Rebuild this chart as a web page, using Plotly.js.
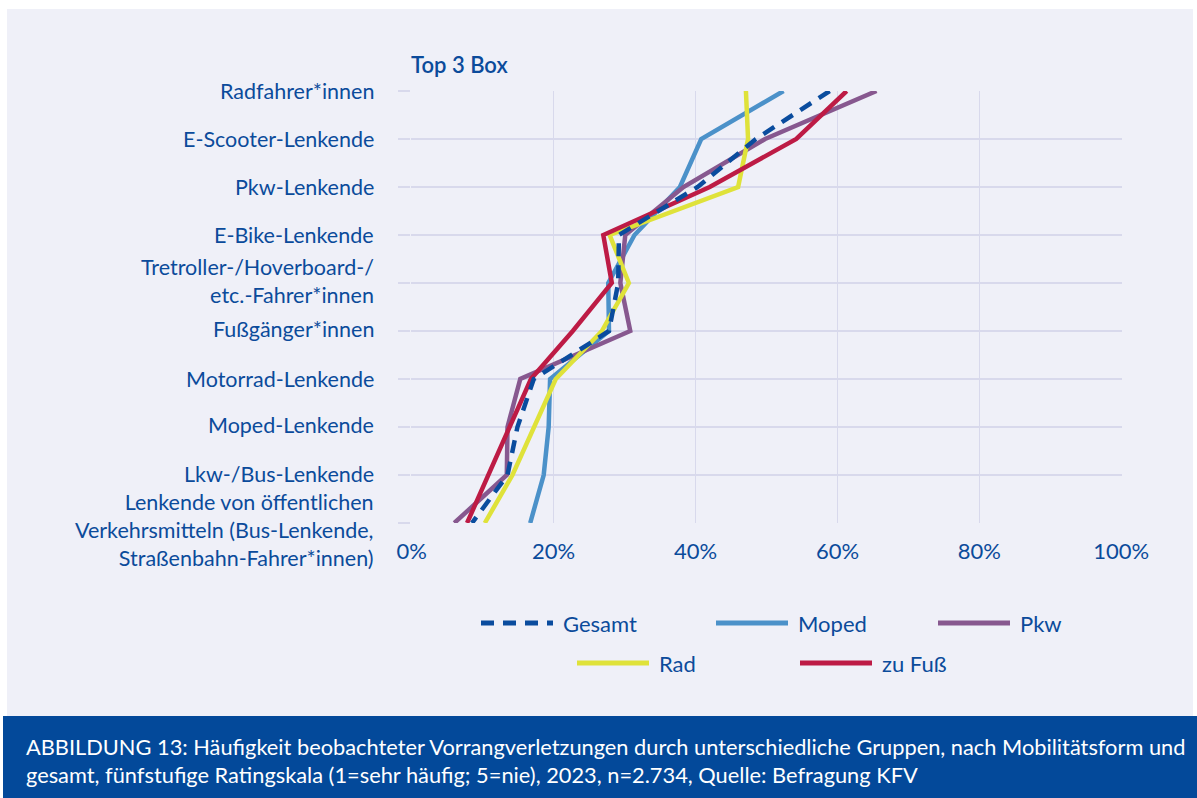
<!DOCTYPE html>
<html>
<head>
<meta charset="utf-8">
<script src="https://cdn.plot.ly/plotly-3.0.1.min.js"></script>
<style>
  html, body { margin: 0; padding: 0; background: #ffffff; }
  #chart { width: 1197px; height: 798px; }
</style>
</head>
<body>
<div id="chart"></div>
<script>
const categories = [
  "Radfahrer*innen",
  "E-Scooter-Lenkende",
  "Pkw-Lenkende",
  "E-Bike-Lenkende",
  "Tretroller-/Hoverboard-/<br>etc.-Fahrer*innen",
  "Fußgänger*innen",
  "Motorrad-Lenkende",
  "Moped-Lenkende",
  "Lkw-/Bus-Lenkende",
  "Lenkende von öffentlichen<br>Verkehrsmitteln (Bus-Lenkende,<br>Straßenbahn-Fahrer*innen)"
];
const gesamt = [58.9, 48.5, 40.3, 29.2, 29.1, 27.8, 17.2, 14.9, 13.5, 8.5];
const moped  = [52.4, 40.8, 37.8, 31.4, 27.7, 27.8, 19.5, 19.3, 18.6, 16.7];
const pkw    = [65.5, 49.8, 38.3, 30.1, 29.4, 30.8, 15.3, 13.5, 13.4, 6.0];
const rad    = [47.1, 47.4, 46.0, 27.9, 30.6, 26.8, 20.3, 17.2, 14.2, 10.3];
const zuFuss = [61.3, 54.2, 42.0, 27.0, 28.2, 22.7, 16.8, 13.8, 10.8, 7.8];
const xTicks = [0, 20, 40, 60, 80, 100];

const NAVY = "#0B4B9B";
const FONT = "Lato, 'Open Sans', sans-serif";
const FS = 22;

// plot area in pixels
const L = 411, R = 1122, T = 91, B = 523;
const W = R - L, H = B - T;
const px = v => (v - L) / W;
const py = v => (B - v) / H;

const series = [
  { name: "Gesamt", vals: gesamt, color: "#0A4C9E", dash: "13px,9px", lx: 481, ly: 623 },
  { name: "Moped",  vals: moped,  color: "#4B91C9", dash: "solid",    lx: 716, ly: 623 },
  { name: "Pkw",    vals: pkw,    color: "#87588F", dash: "solid",    lx: 938, ly: 623 },
  { name: "Rad",    vals: rad,    color: "#DFE23A", dash: "solid",    lx: 577, ly: 663 },
  { name: "zu Fuß", vals: zuFuss, color: "#BD1B45", dash: "solid",    lx: 800, ly: 663 }
];

// draw Gesamt last so it lies on top
const drawOrder = [1, 2, 3, 4, 0];
const traces = drawOrder.map(i => ({
  type: "scatter", mode: "lines", name: series[i].name,
  x: series[i].vals, y: categories,
  line: { color: series[i].color, width: 4.5, dash: series[i].dash },
  hoverinfo: "skip", showlegend: false
}));

const shapes = [
  { type: "rect", xref: "paper", yref: "paper", layer: "below",
    x0: px(7), x1: px(1193), y0: py(716), y1: py(9),
    fillcolor: "#EFF0F8", line: { width: 0 } },
  { type: "rect", xref: "paper", yref: "paper", layer: "below",
    x0: px(3), x1: px(1197), y0: py(798), y1: py(716),
    fillcolor: "#03499A", line: { width: 0 } }
];
const annotations = [
  { text: "Top 3 Box", xref: "paper", yref: "paper", x: px(409), y: py(64),
    xanchor: "left", yanchor: "middle", showarrow: false,
    font: { family: FONT, size: FS, color: NAVY, weight: 600 } },
  { text: "ABBILDUNG 13: Häufigkeit beobachteter Vorrangverletzungen durch unterschiedliche Gruppen, nach Mobilitätsform und<br>gesamt, fünfstufige Ratingskala (1=sehr häufig; 5=nie), 2023, n=2.734, Quelle: Befragung KFV",
    xref: "paper", yref: "paper", x: px(24), y: py(760),
    xanchor: "left", yanchor: "middle", align: "left", showarrow: false,
    font: { family: FONT, size: 21.8, color: "#ffffff" } }
];

// legend (manual, to match the long key lines)
series.forEach(s => {
  shapes.push({ type: "line", xref: "paper", yref: "paper",
    x0: px(s.lx), x1: px(s.lx + 72), y0: py(s.ly), y1: py(s.ly),
    line: { color: s.color, width: 5, dash: s.dash } });
  annotations.push({ text: s.name, xref: "paper", yref: "paper",
    x: px(s.lx + 80), y: py(s.ly), xanchor: "left", yanchor: "middle",
    showarrow: false, font: { family: FONT, size: FS, color: NAVY } });
});

// category labels (as annotations so multi-line labels can be nudged)
const labelShift = [0, 0, 0, 0, 2, 2, 0, 2, 1, -7];
categories.forEach((c, i) => {
  annotations.push({ text: c, xref: "paper", yref: "y", x: px(376), y: c,
    xanchor: "right", yanchor: "middle", align: "right", showarrow: false,
    yshift: labelShift[i], font: { family: FONT, size: 21.5, color: NAVY } });
});

const layout = {
  width: 1197, height: 798,
  paper_bgcolor: "#ffffff",
  plot_bgcolor: "rgba(0,0,0,0)",
  margin: { l: L, r: 1197 - R, t: T, b: 798 - B },
  font: { family: FONT, color: NAVY, size: FS },
  showlegend: false,
  xaxis: {
    range: [-0.1, 100.1], tickvals: xTicks, ticktext: xTicks.map(v => v + "%"),
    showgrid: true, gridcolor: "#D8D9EC", gridwidth: 1.5,
    zeroline: false, showline: false, ticks: "",
    ticklabelstandoff: 13,
    tickfont: { family: FONT, size: FS, color: NAVY },
    fixedrange: true
  },
  yaxis: {
    type: "category", categoryorder: "array", categoryarray: categories,
    range: [9, 0],
    showgrid: true, gridcolor: "#D8D9EC", gridwidth: 1.5,
    zeroline: false, showline: false, showticklabels: false,
    ticks: "outside", ticklen: 12, tickcolor: "#D8D9EC", tickwidth: 1.5,
    fixedrange: true
  },
  shapes: shapes,
  annotations: annotations
};

Plotly.newPlot("chart", traces, layout, { staticPlot: true, displayModeBar: false });
</script>
</body>
</html>
